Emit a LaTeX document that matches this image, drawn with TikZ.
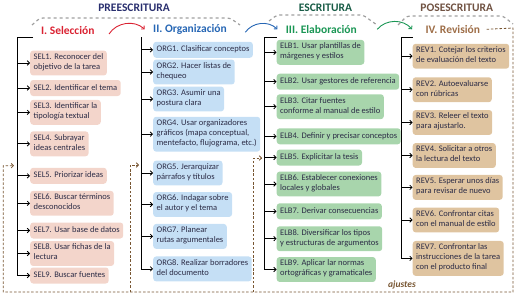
\documentclass[tikz,border=0pt]{standalone}
\usepackage{fontspec}
\setmainfont{Carlito}
\usepackage{xcolor}
\usetikzlibrary{arrows.meta, positioning}

\definecolor{boxtext}{RGB}{44,44,70}
\definecolor{selfill}{RGB}{243,213,203}
\definecolor{orgfill}{RGB}{197,223,245}
\definecolor{elbfill}{RGB}{168,213,172}
\definecolor{revfill}{RGB}{223,196,160}
\definecolor{selred}{RGB}{218,34,50}
\definecolor{orgblue}{RGB}{38,102,180}
\definecolor{elbgreen}{RGB}{26,150,84}
\definecolor{revbrown}{RGB}{158,110,72}
\definecolor{prenavy}{RGB}{40,46,110}
\definecolor{escgreen}{RGB}{24,92,70}
\definecolor{posbrown}{RGB}{112,82,66}
\definecolor{fbbrown}{RGB}{120,86,50}

\begin{document}
\begin{tikzpicture}[x=1pt,y=-1pt,>={Straight Barb[length=2.2pt,width=4.5pt]},
  box/.style={anchor=west, rounded corners=3pt, inner xsep=3.5pt, inner ysep=3pt,
    align=left, text=boxtext, font=\fontsize{8.5}{10}\selectfont,
    execute at begin node=\strut, execute at end node=\strut},
  selbox/.style={box, fill=selfill},
  orgbox/.style={box, fill=orgfill},
  elbbox/.style={box, fill=elbfill},
  revbox/.style={box, fill=revfill},
  phase/.style={font=\fontsize{11.5}{12}\selectfont\bfseries},
  stage/.style={font=\fontsize{11.5}{12}\selectfont\bfseries},
  bracket/.style={gray!75, line width=1.2pt, dashed, rounded corners=3pt},
  trunk/.style={line width=0.8pt},
  feedback/.style={fbbrown, line width=0.8pt, dash pattern=on 2.5pt off 1.8pt},
  link/.style={->, line width=0.9pt}]
  \useasboundingbox (0,0) rectangle (518,297);

  % phases
  \node[phase, prenavy] (hpre) at (134,8) {PREESCRITURA};
  \node[phase, escgreen] (hesc) at (325.5,8) {ESCRITURA};
  \node[phase, posbrown] (hpos) at (456.7,8) {POSESCRITURA};
  \draw[bracket] (32,25) -- (40,18) -- (230,18) -- (240,25);
  \draw[bracket] (269,21) -- (277,15) -- (363,15) -- (377,25);
  \draw[bracket] (398,25) -- (407,16) -- (503,16) -- (513,24);

  % stages
  \node[stage, selred] (tsel) at (67.8,31) {I. Selección};
  \node[stage, orgblue] (torg) at (190,29.3) {II. Organización};
  \node[stage, elbgreen] (telb) at (321.3,29.3) {III. Elaboración};
  \node[stage, revbrown] (trev) at (452.8,29.3) {IV. Revisión};
  \draw[link, selred] (tsel.east) ++(11,3) to[bend left=50] ([xshift=-5pt]torg.west);
  \draw[link, orgblue] (torg.east) ++(15,3) to[bend left=50] ([xshift=-5pt]telb.west);
  \draw[link, elbgreen] (telb.east) ++(17,0) to[bend left=50] ([xshift=-10pt]trev.west);

  % I. seleccion
  \node[selbox] (sel1) at (30,63) {SEL1. Reconocer del\\objetivo de la tarea};
  \node[selbox] (sel2) at (30,88) {SEL2. Identificar el tema};
  \node[selbox] (sel3) at (30,112.3) {SEL3. Identificar la\\tipología textual};
  \node[selbox] (sel4) at (30,143.8) {SEL4. Subrayar\\ideas centrales};
  \node[selbox] (sel5) at (30,175.8) {SEL5. Priorizar ideas};
  \node[selbox] (sel6) at (30,203.3) {SEL6. Buscar términos\\desconocidos};
  \node[selbox] (sel7) at (30,230.5) {SEL7. Usar base de datos};
  \node[selbox] (sel8) at (30,253.5) {SEL8. Usar fichas de la\\lectura};
  \node[selbox] (sel9) at (30,275.5) {SEL9. Buscar fuentes};

  % II. organizacion
  \node[orgbox] (org1) at (153,49.8) {ORG1. Clasificar conceptos};
  \node[orgbox] (org2) at (153,72) {ORG2. Hacer listas de\\chequeo};
  \node[orgbox] (org3) at (153,99) {ORG3. Asumir una\\postura clara};
  \node[orgbox] (org4) at (153,134.2) {ORG4. Usar organizadores\\gráficos (mapa conceptual,\\mentefacto, flujograma, etc.)};
  \node[orgbox] (org5) at (153,173) {ORG5. Jerarquizar\\párrafos y títulos};
  \node[orgbox] (org6) at (153,204.5) {ORG6. Indagar sobre\\el autor y el tema};
  \node[orgbox] (org7) at (153,236.4) {ORG7. Planear\\rutas argumentales};
  \node[orgbox] (org8) at (153,268.9) {ORG8. Realizar borradores\\del documento};

  % III. elaboracion
  \node[elbbox] (elb1) at (276.5,52.3) {ELB1. Usar plantillas de\\márgenes y estilos};
  \node[elbbox] (elb2) at (276.5,81.7) {ELB2. Usar gestores de referencia};
  \node[elbbox] (elb3) at (276.5,106.7) {ELB3. Citar fuentes\\conforme al manual de estilo};
  \node[elbbox] (elb4) at (276.5,136.3) {ELB4. Definir y precisar conceptos};
  \node[elbbox] (elb5) at (276.5,157.5) {ELB5. Explicitar la tesis};
  \node[elbbox] (elb6) at (276.5,184) {ELB6. Establecer conexiones\\locales y globales};
  \node[elbbox] (elb7) at (276.5,211.3) {ELB7. Derivar consecuencias};
  \node[elbbox] (elb8) at (276.5,238.7) {ELB8. Diversificar los tipos\\y estructuras de argumentos};
  \node[elbbox] (elb9) at (276.5,269.5) {ELB9. Aplicar lar normas\\ortográficas y gramaticales};

  % IV. revision
  \node[revbox] (rev1) at (412.5,56.2) {REV1. Cotejar los criterios\\de evaluación del texto};
  \node[revbox] (rev2) at (412.5,89.7) {REV2. Autoevaluarse\\con rúbricas};
  \node[revbox] (rev3) at (412.5,122.5) {REV3. Releer el texto\\para ajustarlo.};
  \node[revbox] (rev4) at (412.5,155.5) {REV4. Solicitar a otros\\la lectura del texto};
  \node[revbox] (rev5) at (412.5,187.4) {REV5. Esperar unos días\\para revisar de nuevo};
  \node[revbox] (rev6) at (412.5,220) {REV6. Confrontar citas\\con el manual de estilo};
  \node[revbox] (rev7) at (412.5,258.4) {REV7. Confrontar las\\instrucciones de la tarea\\con el producto final};

  % trunks
  \coordinate (selx) at (17,37);
  \coordinate (orgx) at (141,37);
  \coordinate (elbx) at (264,37);
  \coordinate (revx) at (401,37);
  \draw[trunk] (33,37) -- (selx) -- (selx |- sel9.west);
  \draw[trunk] (orgx) -- (orgx |- org8.west);
  \draw[trunk] (elbx) -- (277,37);
  \draw[trunk] (elbx) -- (elbx |- elb9.west);
  \draw[trunk] (revx) -- (413,37);
  \draw[trunk] (revx) -- (revx |- rev7.west);
  \foreach \i in {1,...,9}
    \draw[trunk,->] (selx |- sel\i.west) -- (sel\i.west);
  \foreach \i in {1,...,8}
    \draw[trunk,->] (orgx |- org\i.west) -- (org\i.west);
  \foreach \i in {1,...,9}
    \draw[trunk,->] (elbx |- elb\i.west) -- (elb\i.west);
  \foreach \i in {1,...,7}
    \draw[trunk,->] (revx |- rev\i.west) -- (rev\i.west);

  % ajustes
  \coordinate (fbne) at (513,28);
  \coordinate (fbse) at (513,292);
  \coordinate (fbsw) at (3.3,292);
  \draw[feedback,->] ([xshift=3pt]trev.east) -- (fbne) -- (fbse) -- (fbsw)
    -- (3.3,165.7) -- (14,165.7);
  \draw[feedback,->] (130,292) -- (130,165) -- (139,165);
  \draw[feedback,->] (253,292) -- (253,158) -- (262,158);
  \node[fbbrown, font=\fontsize{9.5}{10}\selectfont\bfseries\itshape] (ajustes) at (402,284.5) {ajustes};
\end{tikzpicture}
\end{document}
